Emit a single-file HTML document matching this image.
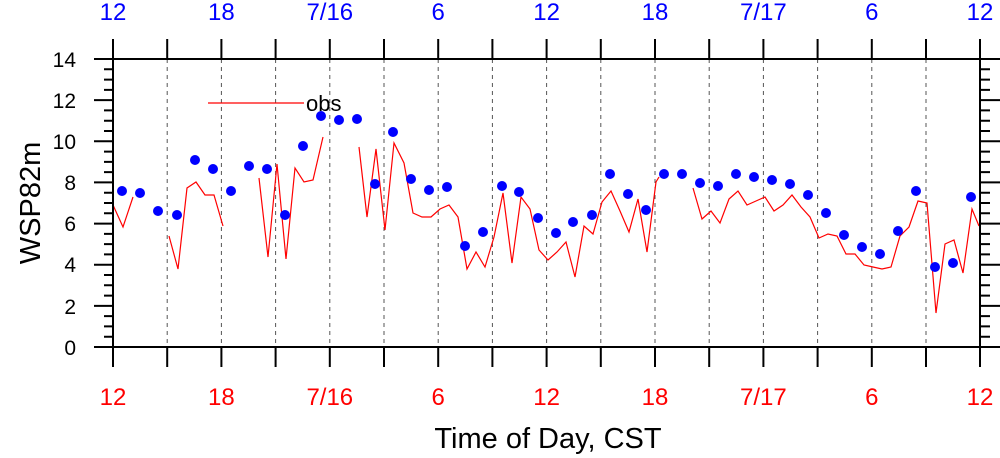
<!DOCTYPE html>
<html><head><meta charset="utf-8"><style>body{margin:0;background:#fff}svg{display:block}text{font-family:"Liberation Sans",sans-serif}</style></head>
<body>
<svg width="1000" height="458" viewBox="0 0 1000 458" xmlns="http://www.w3.org/2000/svg">
<g stroke="#555" stroke-width="1" stroke-dasharray="4,4">
<line x1="167.2" y1="59" x2="167.2" y2="347"/><line x1="221.4" y1="59" x2="221.4" y2="347"/><line x1="275.6" y1="59" x2="275.6" y2="347"/><line x1="329.8" y1="59" x2="329.8" y2="347"/><line x1="384" y1="59" x2="384" y2="347"/><line x1="438.2" y1="59" x2="438.2" y2="347"/><line x1="492.4" y1="59" x2="492.4" y2="347"/><line x1="546.6" y1="59" x2="546.6" y2="347"/><line x1="600.8" y1="59" x2="600.8" y2="347"/><line x1="655" y1="59" x2="655" y2="347"/><line x1="709.2" y1="59" x2="709.2" y2="347"/><line x1="763.4" y1="59" x2="763.4" y2="347"/><line x1="817.6" y1="59" x2="817.6" y2="347"/><line x1="871.8" y1="59" x2="871.8" y2="347"/><line x1="926" y1="59" x2="926" y2="347"/>
</g>
<g fill="none" stroke="#f00" stroke-width="1.2">
<polyline points="113,205 123,227 133,197"/>
<polyline points="169,236 178,269 187,188 196,182 205,195 214,195 223,226"/>
<polyline points="259,178 268,257 277,164 286,259 295,168 304,182 313,180 323,137"/>
<polyline points="359,147 367,217 376,149 385,230 394,143 404,163 413,213 422,217 431,217 440,209 449,205 458,217 467,269 476,252 485,267 494,237 503,193 512,263 521,197 530,209 539,250 548,260 557,252 566,242 575,277 584,226 593,234 602,202 611,191 620,211 629,232 638,199 647,252 656,182 659,177"/>
<polyline points="693,188 702,219 711,211 720,223 729,199 738,191 747,205 756,201 765,197 774,211 783,205 792,195 801,207 810,217 819,238 828,234 837,236 846,254 855,254 864,265 873,267 882,269 891,267 900,236 909,227 918,201 927,203 936,313 945,244 954,240 963,273 972,209 979,226"/>
<line x1="208" y1="103" x2="304" y2="103"/>
</g>
<text x="306" y="111" font-size="22" fill="#000">obs</text>
<g fill="#00f">
<circle cx="122" cy="191" r="5"/><circle cx="140" cy="193" r="5"/><circle cx="158" cy="211" r="5"/><circle cx="177" cy="215" r="5"/><circle cx="195" cy="160" r="5"/><circle cx="213" cy="169" r="5"/><circle cx="231" cy="191" r="5"/><circle cx="249" cy="166" r="5"/><circle cx="267" cy="169" r="5"/><circle cx="285" cy="215" r="5"/><circle cx="303" cy="146" r="5"/><circle cx="321" cy="116" r="5"/><circle cx="339" cy="120" r="5"/><circle cx="357" cy="119" r="5"/><circle cx="375" cy="184" r="5"/><circle cx="393" cy="132" r="5"/><circle cx="411" cy="179" r="5"/><circle cx="429" cy="190" r="5"/><circle cx="447" cy="187" r="5"/><circle cx="465" cy="246" r="5"/><circle cx="483" cy="232" r="5"/><circle cx="502" cy="186" r="5"/><circle cx="519" cy="192" r="5"/><circle cx="538" cy="218" r="5"/><circle cx="556" cy="233" r="5"/><circle cx="573" cy="222" r="5"/><circle cx="592" cy="215" r="5"/><circle cx="610" cy="174" r="5"/><circle cx="628" cy="194" r="5"/><circle cx="646" cy="210" r="5"/><circle cx="664" cy="174" r="5"/><circle cx="682" cy="174" r="5"/><circle cx="700" cy="183" r="5"/><circle cx="718" cy="186" r="5"/><circle cx="736" cy="174" r="5"/><circle cx="754" cy="177" r="5"/><circle cx="772" cy="180" r="5"/><circle cx="790" cy="184" r="5"/><circle cx="808" cy="195" r="5"/><circle cx="826" cy="213" r="5"/><circle cx="844" cy="235" r="5"/><circle cx="862" cy="247" r="5"/><circle cx="880" cy="254" r="5"/><circle cx="898" cy="231" r="5"/><circle cx="916" cy="191" r="5"/><circle cx="935" cy="267" r="5"/><circle cx="953" cy="263" r="5"/><circle cx="971" cy="197" r="5"/>
</g>
<rect x="113" y="59" width="867" height="288" fill="none" stroke="#000" stroke-width="2"/>
<g stroke="#000" stroke-width="2">
<path d="M113 347V367M167.2 347V367M221.4 347V367M275.6 347V367M329.8 347V367M384 347V367M438.2 347V367M492.4 347V367M546.6 347V367M600.8 347V367M655 347V367M709.2 347V367M763.4 347V367M817.6 347V367M871.8 347V367M926 347V367M980 347V367"/>
<path d="M113 59V39M167.2 59V39M221.4 59V39M275.6 59V39M329.8 59V39M384 59V39M438.2 59V39M492.4 59V39M546.6 59V39M600.8 59V39M655 59V39M709.2 59V39M763.4 59V39M817.6 59V39M871.8 59V39M926 59V39M980 59V39"/>
<path d="M94 347H113M94 305.9H113M94 264.7H113M94 223.6H113M94 182.4H113M94 141.3H113M94 100.1H113M94 59H113"/>
<path d="M980 347H1000M980 305.9H1000M980 264.7H1000M980 223.6H1000M980 182.4H1000M980 141.3H1000M980 100.1H1000M980 59H1000"/>
<path d="M104 336.7H113M104 326.4H113M104 316.1H113M104 295.6H113M104 285.3H113M104 275H113M104 254.4H113M104 244.1H113M104 233.9H113M104 213.3H113M104 203H113M104 192.7H113M104 172.1H113M104 161.9H113M104 151.6H113M104 131H113M104 120.7H113M104 110.4H113M104 89.9H113M104 79.6H113M104 69.3H113"/>
<path d="M980 336.7H990M980 326.4H990M980 316.1H990M980 295.6H990M980 285.3H990M980 275H990M980 254.4H990M980 244.1H990M980 233.9H990M980 213.3H990M980 203H990M980 192.7H990M980 172.1H990M980 161.9H990M980 151.6H990M980 131H990M980 120.7H990M980 110.4H990M980 89.9H990M980 79.6H990M980 69.3H990"/>
</g>
<g font-size="21" text-anchor="end" fill="#000">
<text x="76" y="355">0</text><text x="76" y="314">2</text><text x="76" y="272">4</text><text x="76" y="231">6</text><text x="76" y="190">8</text><text x="76" y="149">10</text><text x="76" y="108">12</text><text x="76" y="67">14</text>
</g>
<g font-size="24" text-anchor="middle" fill="#f00">
<text x="113" y="405">12</text><text x="221.4" y="405">18</text><text x="329.8" y="405">7/16</text><text x="438.2" y="405">6</text><text x="546.6" y="405">12</text><text x="655" y="405">18</text><text x="763.4" y="405">7/17</text><text x="871.8" y="405">6</text><text x="980" y="405">12</text>
</g>
<g font-size="24" text-anchor="middle" fill="#00f">
<text x="113" y="20">12</text><text x="221.4" y="20">18</text><text x="329.8" y="20">7/16</text><text x="438.2" y="20">6</text><text x="546.6" y="20">12</text><text x="655" y="20">18</text><text x="763.4" y="20">7/17</text><text x="871.8" y="20">6</text><text x="980" y="20">12</text>
</g>
<text x="548" y="448" font-size="29" text-anchor="middle">Time of Day, CST</text>
<text x="0" y="0" font-size="29" text-anchor="middle" transform="translate(40,203) rotate(-90)">WSP82m</text>
</svg>
</body></html>
